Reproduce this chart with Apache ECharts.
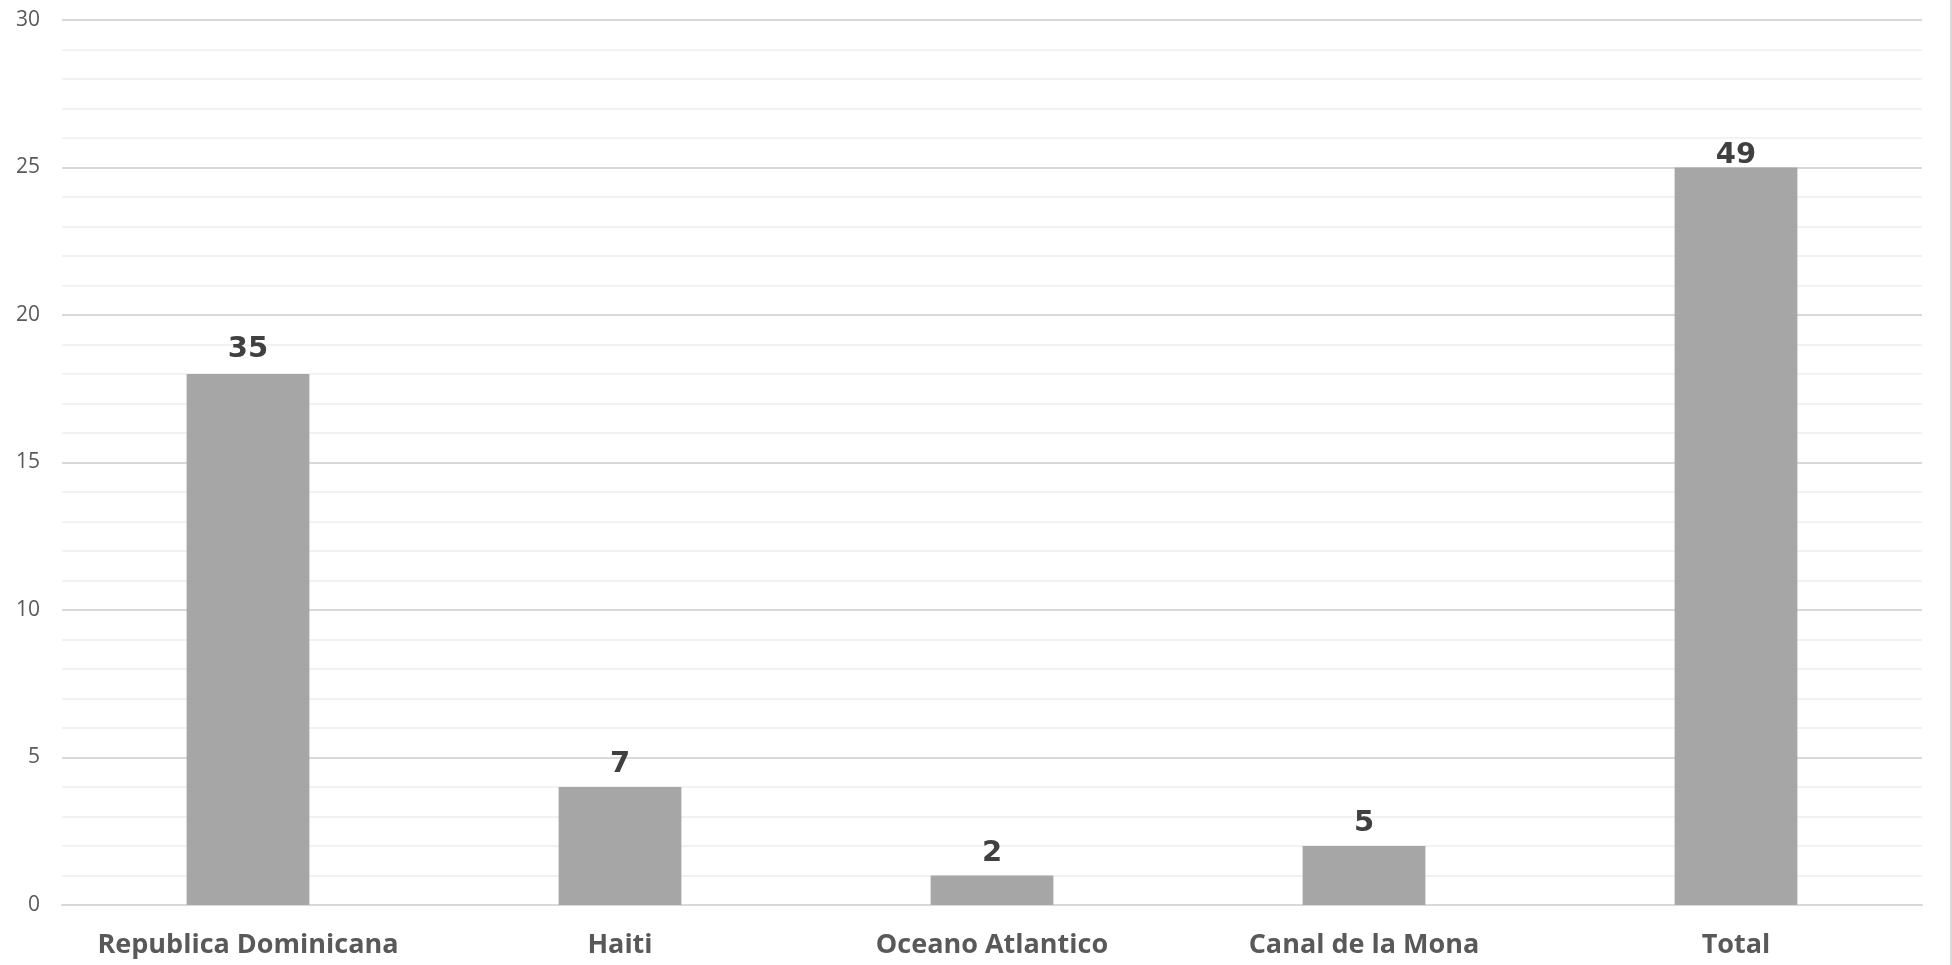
<!DOCTYPE html>
<html>
<head>
<meta charset="utf-8">
<script src="https://cdn.jsdelivr.net/npm/echarts@6/dist/echarts.min.js"></script>
<style>html,body{margin:0;padding:0;background:#fff;}#c{width:1952px;height:965px;}</style>
</head>
<body>
<div id="c"></div>
<script>
const categories = ['Republica Dominicana', 'Haiti', 'Oceano Atlantico', 'Canal de la Mona', 'Total'];
const barValues = [18, 4, 1, 2, 25];
const labelTexts = ['35', '7', '2', '5', '49'];
const labelDistances = [10, 8, 8, 8, -2];

const chart = echarts.init(document.getElementById('c'));
chart.setOption({
  animation: false,
  grid: { left: 62, right: 30, top: 20, bottom: 60, containLabel: false },
  xAxis: {
    type: 'category',
    data: categories,
    axisLine: { show: true, lineStyle: { color: '#d9d9d9', width: 2 } },
    axisTick: { show: false },
    axisLabel: { interval: 0, hideOverlap: false, color: '#595959', fontSize: 27, fontWeight: 'bold', fontFamily: 'Open Sans', margin: 27 }
  },
  yAxis: {
    type: 'value',
    min: 0, max: 30, interval: 5,
    axisLine: { show: false },
    axisTick: { show: false },
    axisLabel: { color: '#595959', fontSize: 21, fontFamily: 'Open Sans', margin: 22 },
    splitLine: { lineStyle: { color: '#d9d9d9', width: 2 } },
    minorTick: { show: false, splitNumber: 5 },
    minorSplitLine: { show: true, lineStyle: { color: '#f2f2f2', width: 2 } }
  },
  series: [{
    type: 'bar',
    barWidth: '33%',
    itemStyle: { color: '#a6a6a6' },
    data: barValues.map((v, i) => ({
      value: v,
      label: {
        show: true,
        position: 'top',
        distance: labelDistances[i],
        formatter: () => labelTexts[i],
        color: '#404040',
        fontSize: 29,
        fontWeight: 900,
        fontFamily: 'DejaVu Sans'
      }
    }))
  }],
  graphic: [{
    type: 'rect',
    shape: { x: 1950, y: 0, width: 2, height: 965 },
    style: { fill: '#d9d9d9' }
  }]
});
</script>
</body>
</html>
